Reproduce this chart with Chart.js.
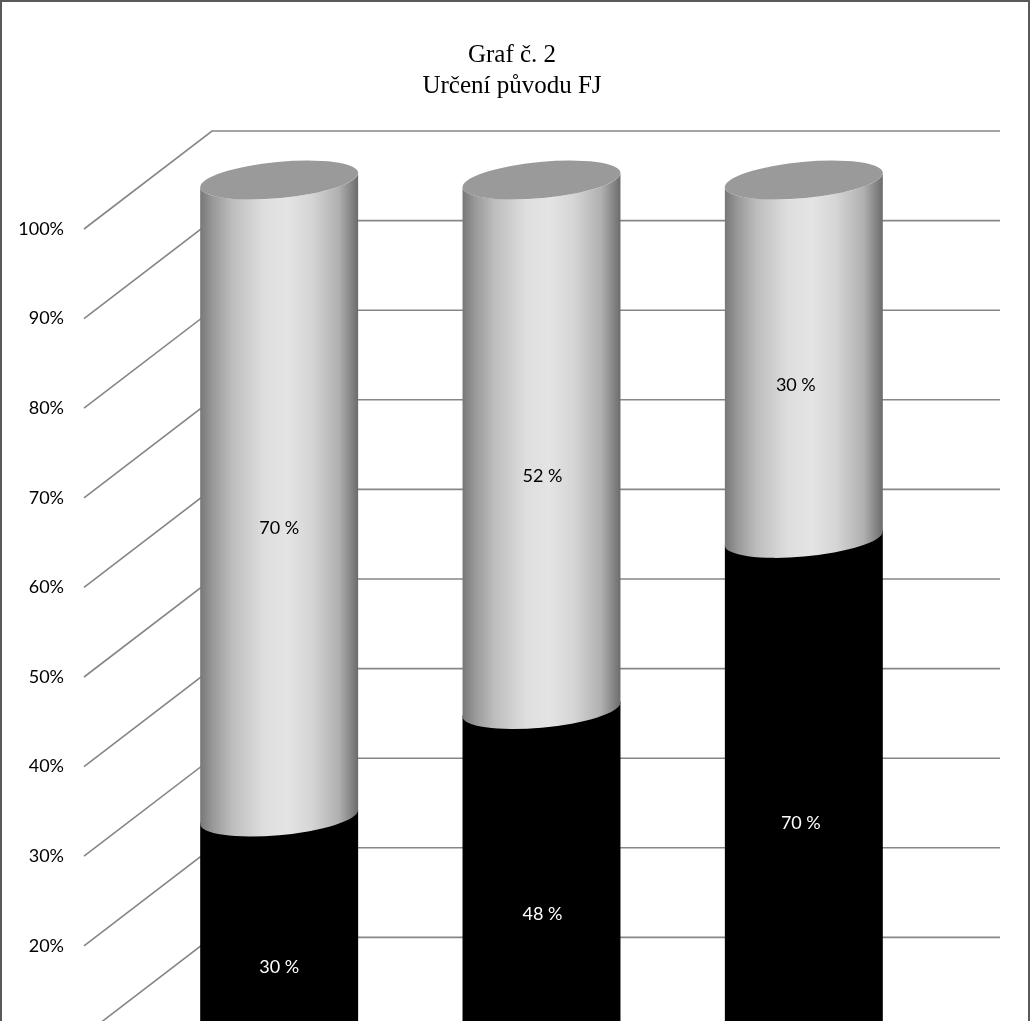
<!DOCTYPE html>
<html lang="cs">
<head>
    <meta charset="UTF-8">
    <title>Graf č. 2</title>
    <script src="https://cdn.jsdelivr.net/npm/chart.js@4/dist/chart.umd.js"></script>
    <style>
        html, body { margin: 0; padding: 0; background: #fff; height: 1021px; overflow: hidden; }
        #wrap { width: 1030px; height: 1125px; }
        canvas { display: block; }
    </style>
</head>
<body>
<div id="wrap"><canvas id="myChart" width="1030" height="1125"></canvas></div>
<script>

    const categories = ["1", "2", "3"];
    const titleLines = ["Graf č. 2", "Určení původu FJ"];
    // heights as they look in the picture, the printed labels say something else
    const blackValues = [28.9, 40.9, 60.0];
    const grayValues = [71.1, 59.1, 40.0];
    const blackLabels = ["30 %", "48 %", "70 %"];
    const grayLabels = ["70 %", "52 %", "30 %"];

    // depth of the 3D box in px
    const depthX = 64;
    const depthY = 49;
    const pxPerUnit = 8.96;
    const unitShift = depthY / pxPerUnit;

    // tilted ellipse of the cylinder
    const ellA = 79.3;
    const ellB = 18.1;
    const ellRot = -0.0933;
    const ellT = 0.0213;

    // hand placed labels in the original
    const blackShift = [[0, 21], [1, 21], [-3, 16]];
    const grayShift = [[0, 30], [1, 31], [-8, 26]];

    function grayGradient(ctx, left, right) {
        const g = ctx.createLinearGradient(left, 0, right, 0);
        g.addColorStop(0, "#787878");
        g.addColorStop(0.08, "#999999");
        g.addColorStop(0.2, "#bdbdbd");
        g.addColorStop(0.4, "#dedede");
        g.addColorStop(0.55, "#e4e4e4");
        g.addColorStop(0.7, "#d6d6d6");
        g.addColorStop(0.88, "#b0b0b0");
        g.addColorStop(0.97, "#7e7e7e");
        g.addColorStop(1, "#6c6c6c");
        return g;
    }

    const frame = {
        id: "frame",
        beforeDraw(chart) {
            const ctx = chart.ctx;
            ctx.save();
            ctx.strokeStyle = "#595959";
            ctx.lineWidth = 2;
            ctx.strokeRect(1, 1, 1028, 1200);
            ctx.restore();
        }
    };

    const walls = {
        id: "walls",
        beforeDatasetsDraw(chart) {
            const ctx = chart.ctx;
            const area = chart.chartArea;
            const back = chart.scales.yBack;
            ctx.save();
            ctx.strokeStyle = "#868686";
            ctx.lineWidth = 1.6;
            for (let v = 0; v <= 100; v += 10) {
                const y = back.getPixelForValue(v);
                ctx.beginPath();
                ctx.moveTo(area.left - depthX, y + depthY * 2);
                ctx.lineTo(area.left + depthX, y);
                ctx.lineTo(area.right + depthX + 1, y);
                ctx.stroke();
            }
            ctx.restore();
        }
    };

    // replaces the flat bars with cylinders, sizes come from the bar elements
    const cylinders = {
        id: "cylinders",
        beforeDatasetsDraw(chart) {
            const ctx = chart.ctx;
            const blackBars = chart.getDatasetMeta(0).data;
            const grayBars = chart.getDatasetMeta(1).data;
            blackBars.forEach((bar) => {
                ctx.beginPath();
                ctx.ellipse(bar.x, bar.y, ellA, ellB, ellRot, ellT + Math.PI, ellT + 2 * Math.PI);
                ctx.ellipse(bar.x, bar.base, ellA, ellB, ellRot, ellT, ellT + Math.PI);
                ctx.closePath();
                ctx.fillStyle = "#000000";
                ctx.fill();
            });
            grayBars.forEach((bar) => {
                const left = bar.x - bar.width / 2;
                const right = bar.x + bar.width / 2;
                ctx.beginPath();
                ctx.ellipse(bar.x, bar.y, ellA, ellB, ellRot, ellT, ellT + Math.PI);
                ctx.ellipse(bar.x, bar.base, ellA, ellB, ellRot, ellT + Math.PI, ellT, true);
                ctx.closePath();
                ctx.fillStyle = grayGradient(ctx, left, right);
                ctx.fill();
                ctx.beginPath();
                ctx.ellipse(bar.x, bar.y, ellA, ellB, ellRot, 0, 2 * Math.PI);
                ctx.fillStyle = "#9a9a9a";
                ctx.fill();
            });
            return false;
        }
    };

    const barLabels = {
        id: "barLabels",
        afterDraw(chart) {
            const ctx = chart.ctx;
            ctx.save();
            ctx.font = "18px Lato";
            ctx.textAlign = "center";
            ctx.textBaseline = "middle";
            chart.getDatasetMeta(0).data.forEach((bar, i) => {
                ctx.fillStyle = "#ffffff";
                ctx.fillText(blackLabels[i], bar.x + blackShift[i][0], (bar.y + bar.base) / 2 + blackShift[i][1]);
            });
            chart.getDatasetMeta(1).data.forEach((bar, i) => {
                ctx.fillStyle = "#000000";
                ctx.fillText(grayLabels[i], bar.x + grayShift[i][0], (bar.y + bar.base) / 2 + grayShift[i][1]);
            });
            ctx.restore();
        }
    };

    const myChart = new Chart("myChart", {
        type: "bar",
        data: {
            labels: categories,
            datasets: [
                { label: "řada 1", data: blackValues, yAxisID: "yBars", backgroundColor: "#000000" },
                { label: "řada 2", data: grayValues, yAxisID: "yBars", backgroundColor: "#bdbdbd" }
            ]
        },
        options: {
            responsive: false,
            animation: false,
            layout: { padding: { left: 0, right: 6, top: 0, bottom: 0 } },
            datasets: { bar: { categoryPercentage: 1, barPercentage: 0.6 } },
            plugins: {
                legend: { display: false },
                tooltip: { enabled: false },
                title: {
                    display: true,
                    text: titleLines,
                    color: "#000000",
                    font: { family: "'Liberation Serif'", size: 25, weight: "normal", lineHeight: 1.24 },
                    padding: { top: 40, bottom: 29 }
                }
            },
            scales: {
                x: { display: false, stacked: true },
                // front edge of the box, carries the tick labels
                y: {
                    position: "left",
                    min: 0,
                    max: 100 + 2 * unitShift,
                    grid: { display: false },
                    border: { display: false },
                    ticks: {
                        stepSize: 10,
                        padding: 76,
                        autoSkip: false,
                        color: "#000000",
                        font: { family: "Lato", size: 18 },
                        callback: (v) => (v <= 100 ? v + "%" : "")
                    },
                    // the big tick padding would otherwise eat the bottom of the chart
                    afterFit: (scale) => {
                        scale.width = 148;
                        scale.paddingBottom = 0;
                    }
                },
                // middle of the box, where the cylinders stand
                yBars: {
                    display: false,
                    stacked: true,
                    min: -unitShift,
                    max: 100 + unitShift
                },
                // back wall of the box
                yBack: {
                    position: "right",
                    min: -2 * unitShift,
                    max: 100,
                    grid: { display: false },
                    border: { display: false },
                    ticks: { display: false },
                    afterFit: (scale) => { scale.width = 89; }
                }
            }
        },
        plugins: [frame, walls, cylinders, barLabels]
    });
</script>
</body>
</html>
